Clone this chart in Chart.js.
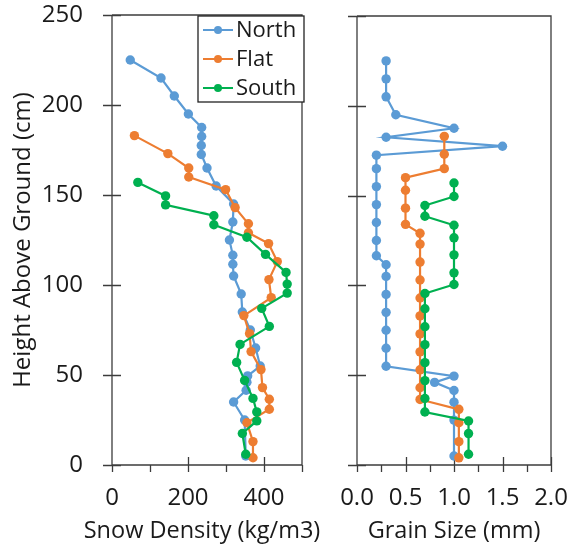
<!DOCTYPE html>
<html>
<head>
<meta charset="utf-8">
<script src="https://cdn.jsdelivr.net/npm/chart.js@4"></script>
<style>
  body { margin: 0; background: #fff; }
  #wrap { position: relative; width: 569px; height: 548px; }
  canvas { position: absolute; top: 0; }
  #density { left: 0; }
  #grain { left: 312px; }
</style>
</head>
<body>
<div id="wrap">
  <canvas id="density" width="340" height="548"></canvas>
  <canvas id="grain" width="257" height="548"></canvas>
</div>
<script>
// measurement heights above ground (cm), one list per site
const northHeight = [225, 215, 205, 195, 187.5, 182.5, 177.5, 172.5, 165, 155, 145, 135, 125, 116.5, 111.5, 105, 95, 85, 75, 65, 55, 49.5, 46, 41.5, 35, 25, 5];
const flatHeight  = [183, 173, 165, 160, 153, 143, 134, 129, 123, 113, 103, 93, 83, 73, 63, 53, 43, 36.5, 31, 23.5, 13, 4];
const southHeight = [157, 149.5, 144.5, 138.5, 133.5, 126.5, 117, 107, 100.5, 95.5, 87, 77, 67, 57, 47, 37, 29.5, 24.5, 17.5, 6];

// snow density (kg/m3)
const northDensity = [48, 129, 164, 201, 236, 236, 235, 235, 250, 274, 320, 318, 309, 318, 318, 320, 340, 343, 364, 378, 390, 357, 355, 353, 320, 349, 352];
const flatDensity  = [59, 147, 202, 202, 299, 324, 359, 359, 412, 435, 413, 419, 347, 362, 366, 392, 396, 414, 414, 355, 371, 371];
const southDensity = [68, 141, 141, 268, 268, 355, 404, 458, 461, 461, 394, 414, 337, 328, 349, 371, 381, 381, 343, 352];

// grain size (mm)
const northGrain = [0.3, 0.3, 0.3, 0.4, 1.0, 0.3, 1.5, 0.2, 0.2, 0.2, 0.2, 0.2, 0.2, 0.2, 0.3, 0.3, 0.3, 0.3, 0.3, 0.3, 0.3, 1.0, 0.8, 1.0, 1.0, 1.0, 1.0];
const flatGrain  = [0.9, 0.9, 0.9, 0.5, 0.5, 0.5, 0.5, 0.65, 0.65, 0.65, 0.65, 0.65, 0.65, 0.65, 0.65, 0.65, 0.65, 0.65, 1.05, 1.05, 1.05, 1.05];
const southGrain = [1.0, 1.0, 0.7, 0.7, 1.0, 1.0, 1.0, 1.0, 1.0, 0.7, 0.7, 0.7, 0.7, 0.7, 0.7, 0.7, 0.7, 1.15, 1.15, 1.15];

const siteNames = ['North', 'Flat', 'South'];
const siteColors = ['#5B9BD5', '#ED7D31', '#00B050'];

const FONT = "'Open Sans', 'DejaVu Sans', sans-serif";
const INK = '#1a1a1a';
const AXIS = '#3c3c3c';

function pairs(xs, ys) {
  return xs.map((x, i) => ({ x, y: ys[i] }));
}

function makeDatasets(series) {
  return series.map((s, i) => ({
    label: siteNames[i],
    data: pairs(s.x, s.y),
    showLine: true,
    borderColor: siteColors[i],
    backgroundColor: siteColors[i],
    borderWidth: 2.2,
    pointRadius: 4.7,
    pointBorderWidth: 0,
    pointHoverRadius: 4.7,
    order: 3 - i // South drawn last
  }));
}

// axis lines, box, crossing tick marks, x title
const framePlugin = {
  id: 'frame',
  beforeDatasetsDraw(chart, args, opts) {
    const { ctx, chartArea: a, scales } = chart;
    ctx.save();
    ctx.strokeStyle = AXIS;
    ctx.lineWidth = 1.3;
    ctx.beginPath();
    ctx.moveTo(a.left, a.top); ctx.lineTo(a.right, a.top); ctx.lineTo(a.right, a.bottom);
    ctx.moveTo(a.left, a.top); ctx.lineTo(a.left, a.bottom); ctx.lineTo(a.right, a.bottom);
    scales.y.ticks.forEach(t => {
      const py = Math.round(scales.y.getPixelForValue(t.value)) + 0.5;
      ctx.moveTo(a.left - 9, py); ctx.lineTo(a.left + 9, py);
    });
    scales.x.ticks.forEach(t => {
      const px = Math.round(scales.x.getPixelForValue(t.value)) + 0.5;
      const major = Math.abs(t.value / opts.major - Math.round(t.value / opts.major)) < 1e-6;
      ctx.moveTo(px, a.bottom + 7);
      ctx.lineTo(px, major && t.value !== 0 ? a.bottom - 8 : a.bottom);
    });
    ctx.stroke();

    // axis title drawn at full width (the built-in one is squeezed to the scale width)
    ctx.fillStyle = INK;
    ctx.font = '23.5px ' + FONT;
    ctx.textAlign = 'center';
    ctx.textBaseline = 'middle';
    ctx.fillText(opts.xTitle, (a.left + a.right) / 2 + opts.titleShift, 531);
    ctx.restore();
  }
};

// boxed legend in the top right of the density panel
const legendPlugin = {
  id: 'boxLegend',
  afterDraw(chart, args, opts) {
    if (!opts.show) return;
    const { ctx } = chart;
    const x0 = 198, y0 = 16, w = 106, h = 86;
    ctx.save();
    ctx.fillStyle = '#fff';
    ctx.fillRect(x0, y0, w, h);
    ctx.strokeStyle = '#222';
    ctx.lineWidth = 1.3;
    ctx.strokeRect(x0, y0, w, h);
    ctx.font = '22px ' + FONT;
    ctx.textBaseline = 'middle';
    chart.data.datasets.forEach((ds, i) => {
      const cy = y0 + 14 + i * 29;
      ctx.strokeStyle = ds.borderColor;
      ctx.lineWidth = 2;
      ctx.beginPath();
      ctx.moveTo(x0 + 5, cy); ctx.lineTo(x0 + 35, cy);
      ctx.stroke();
      ctx.fillStyle = ds.borderColor;
      ctx.beginPath();
      ctx.arc(x0 + 20, cy, 4, 0, Math.PI * 2);
      ctx.fill();
      ctx.fillStyle = INK;
      ctx.fillText(ds.label, x0 + 38, cy + 1);
    });
    ctx.restore();
  }
};

function fixWidth(w) {
  return s => { s.width = w; s.paddingTop = 0; s.paddingBottom = 0; };
}
function fixHeight(h) {
  return s => { s.height = h; s.paddingLeft = 0; s.paddingRight = 0; };
}

function panel(canvasId, cfg) {
  return new Chart(document.getElementById(canvasId), {
    type: 'scatter',
    data: { datasets: makeDatasets(cfg.series) },
    options: {
      responsive: false,
      devicePixelRatio: 1,
      animation: false,
      layout: { padding: { top: cfg.top, right: cfg.right, left: 0, bottom: 0 } },
      plugins: {
        legend: { display: false },
        tooltip: { enabled: false },
        frame: { major: cfg.major, xTitle: cfg.xTitle, titleShift: cfg.titleShift },
        boxLegend: { show: cfg.legend }
      },
      scales: {
        x: {
          type: 'linear',
          min: cfg.xMin, max: cfg.xMax,
          afterFit: fixHeight(83),
          grid: { display: false, drawTicks: false },
          border: { display: false },
          ticks: {
            stepSize: cfg.step,
            padding: 19,
            maxRotation: 0,
            autoSkip: false,
            color: INK,
            font: { family: FONT, size: 24 },
            callback: cfg.xLabel
          }
        },
        y: {
          type: 'linear',
          min: 0, max: 250,
          afterFit: fixWidth(cfg.yWidth),
          grid: { display: false, drawTicks: false },
          border: { display: false },
          ticks: {
            stepSize: 50,
            padding: 29,
            display: cfg.yLabels,
            color: INK,
            font: { family: FONT, size: 24 }
          },
          title: {
            display: cfg.yLabels,
            text: 'Height Above Ground (cm)',
            color: INK,
            font: { family: FONT, size: 24 },
            padding: { top: 9, bottom: 0 }
          }
        }
      }
    },
    plugins: [framePlugin, legendPlugin]
  });
}

panel('density', {
  series: [
    { x: northDensity, y: northHeight },
    { x: flatDensity, y: flatHeight },
    { x: southDensity, y: southHeight }
  ],
  xMin: 0, xMax: 500, step: 100, major: 200,
  xLabel: v => (v % 200 === 0 ? String(v) : ''),
  xTitle: 'Snow Density (kg/m3)', titleShift: -5,
  yWidth: 112, yLabels: true, legend: true,
  top: 15, right: 38
});

panel('grain', {
  series: [
    { x: northGrain, y: northHeight },
    { x: flatGrain, y: flatHeight },
    { x: southGrain, y: southHeight }
  ],
  xMin: 0, xMax: 2, step: 0.25, major: 0.5,
  xLabel: v => (Math.abs(v * 2 - Math.round(v * 2)) < 1e-6 ? v.toFixed(1) : ''),
  xTitle: 'Grain Size (mm)', titleShift: 0,
  yWidth: 45, yLabels: false, legend: false,
  top: 16, right: 18
});
</script>
</body>
</html>
